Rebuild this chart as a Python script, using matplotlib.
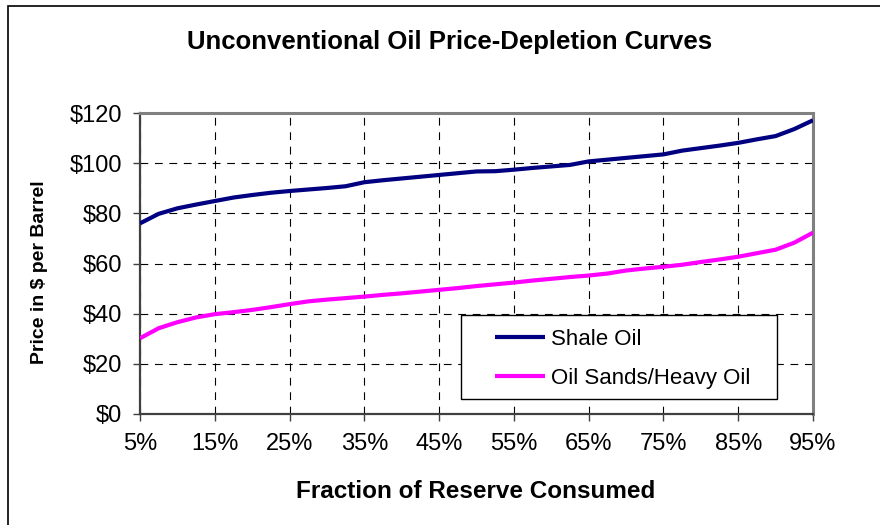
import matplotlib
matplotlib.use("Agg")
import matplotlib.pyplot as plt
from matplotlib.patches import Rectangle
from matplotlib.ticker import FuncFormatter

plt.rcParams['font.family'] = ['Liberation Sans', 'DejaVu Sans']

# fraction of reserve consumed (%)
fraction = [5, 7.5, 10, 12.5, 15, 17.5, 20, 22.5, 25, 27.5, 30, 32.5, 35, 37.5,
            40, 42.5, 45, 47.5, 50, 52.5, 55, 57.5, 60, 62.5, 65, 67.5, 70,
            72.5, 75, 77.5, 80, 82.5, 85, 87.5, 90, 92.5, 95]
shale_oil = [76.0, 79.8, 82.0, 83.5, 84.9, 86.3, 87.3, 88.2, 88.9, 89.5, 90.1,
             90.8, 92.4, 93.2, 93.9, 94.6, 95.3, 96.0, 96.7, 96.8, 97.4, 98.1,
             98.7, 99.3, 100.7, 101.4, 102.1, 102.8, 103.5, 105.0, 106.0, 107.0,
             108.1, 109.5, 110.8, 113.6, 117.1]
oil_sands = [30.2, 34.2, 36.6, 38.5, 39.8, 40.6, 41.5, 42.6, 43.8, 44.9, 45.6,
             46.2, 46.8, 47.5, 48.1, 48.8, 49.5, 50.2, 51.0, 51.7, 52.4, 53.2,
             53.9, 54.6, 55.2, 56.0, 57.2, 58.0, 58.7, 59.5, 60.6, 61.6, 62.7,
             64.1, 65.5, 68.3, 72.3]
x_ticks = [5, 15, 25, 35, 45, 55, 65, 75, 85, 95]
y_ticks = [0, 20, 40, 60, 80, 100, 120]

W, H = 880, 525
fig = plt.figure(figsize=(W / 100, H / 100), dpi=100)
ax = fig.add_axes([140 / W, 1 - 414 / H, 673 / W, 301 / H])

# outer chart border (only top/left edges fall inside the image)
fig.patches.append(Rectangle((8 / W, -0.1), 1.2, 1 - 6 / H + 0.1,
                             transform=fig.transFigure, fill=False,
                             edgecolor='black', linewidth=1.2))

ax.plot(fraction, shale_oil, color='#000080', lw=3, label='Shale Oil',
        solid_capstyle='butt', zorder=3)
ax.plot(fraction, oil_sands, color='#FF00FF', lw=3,
        label='Oil Sands/Heavy Oil', solid_capstyle='butt', zorder=3)

ax.set_xlim(5, 95)
ax.set_ylim(0, 120)
ax.set_xticks(x_ticks)
ax.set_yticks(y_ticks)
ax.xaxis.set_major_formatter(FuncFormatter(lambda v, p: f"{v:.0f}%"))
ax.yaxis.set_major_formatter(FuncFormatter(lambda v, p: f"${v:.0f}"))
ax.tick_params(labelsize=17, length=5, width=1, color='#404040')
ax.tick_params(axis='x', pad=9)
ax.tick_params(axis='y', pad=8)

ax.grid(True, color='black', linestyle=(0, (7, 6)), linewidth=0.8)
ax.set_axisbelow(True)

for s in ['left', 'bottom']:
    ax.spines[s].set_color('#404040')
    ax.spines[s].set_linewidth(1.6)
for s in ['top', 'right']:
    ax.spines[s].set_color('#808080')
    ax.spines[s].set_linewidth(2.2)

fig.text(450 / W, 1 - 42 / H, 'Unconventional Oil Price-Depletion Curves',
         ha='center', va='center', fontsize=18.5, fontweight='bold')
fig.text(476 / W, 1 - 491 / H, 'Fraction of Reserve Consumed',
         ha='center', va='center', fontsize=17.5, fontweight='bold')
fig.text(40 / W, 1 - 272 / H, 'Price in $ per Barrel', rotation=90,
         ha='center', va='center', fontsize=14, fontweight='bold')

# legend box
ax.add_patch(Rectangle((461 / W, 1 - 399 / H), 316 / W, 84 / H,
                       transform=fig.transFigure, facecolor='white',
                       edgecolor='black', linewidth=1, zorder=5))
leg = ax.legend(loc='upper left', bbox_to_anchor=(495 / W, 1 - 329 / H),
                bbox_transform=fig.transFigure, fontsize=16, frameon=False,
                handlelength=2.25, handletextpad=0.25, borderpad=0,
                borderaxespad=0, labelspacing=0.8)
leg.set_zorder(6)

fig.savefig('out.png', dpi=100)
